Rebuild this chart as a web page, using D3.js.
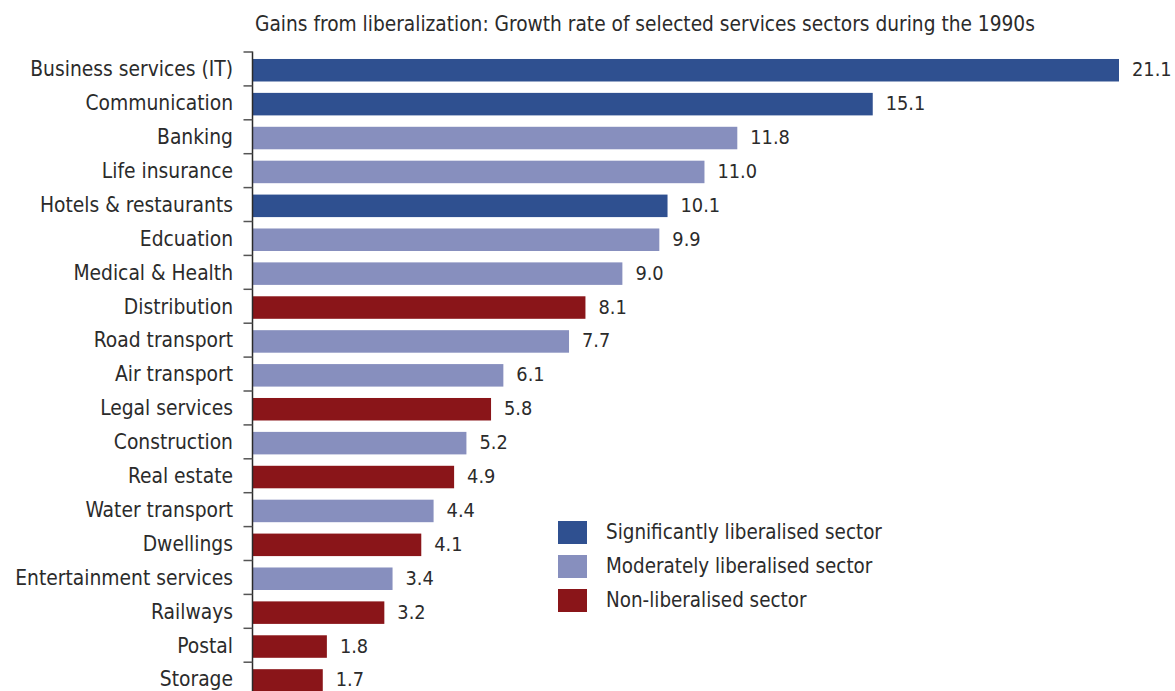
<!DOCTYPE html>
<html>
<head>
<meta charset="utf-8">
<script src="https://cdn.jsdelivr.net/npm/d3@7"></script>
<style>
  html, body { margin: 0; padding: 0; background: #fff; }
  svg { display: block; }
  text { font-family: "DejaVu Sans Condensed", "DejaVu Sans", Verdana, sans-serif; font-stretch: condensed; fill: #2b2b2b; }
</style>
</head>
<body>
<script>
const title = "Gains from liberalization: Growth rate of selected services sectors during the 1990s";
const categories = ["Business services (IT)", "Communication", "Banking", "Life insurance", "Hotels & restaurants",
  "Edcuation", "Medical & Health", "Distribution", "Road transport", "Air transport", "Legal services",
  "Construction", "Real estate", "Water transport", "Dwellings", "Entertainment services", "Railways",
  "Postal", "Storage"];
const values = [21.1, 15.1, 11.8, 11.0, 10.1, 9.9, 9.0, 8.1, 7.7, 6.1, 5.8, 5.2, 4.9, 4.4, 4.1, 3.4, 3.2, 1.8, 1.7];
const groups = ["sig", "sig", "mod", "mod", "sig", "mod", "mod", "non", "mod", "mod", "non", "mod", "non", "mod", "non", "mod", "non", "non", "non"];
const legendKeys = ["sig", "mod", "non"];
const legendLabels = ["Significantly liberalised sector", "Moderately liberalised sector", "Non-liberalised sector"];
const colors = ["#2f5090", "#878fbe", "#8a1519"];

const W = 1175, H = 691;
const svg = d3.select("body").append("svg").attr("width", W).attr("height", H);

const x = d3.scaleLinear().domain([0, 21.1]).range([253, 1119]);
const step = 33.9, pIn = 0.336, pOut = 0.206, plotTop = 52;
const n = categories.length;
const y = d3.scaleBand().domain(categories)
  .range([plotTop, plotTop + step * (n - pIn + 2 * pOut)])
  .paddingInner(pIn).paddingOuter(pOut);
const color = d3.scaleOrdinal().domain(legendKeys).range(colors);

svg.append("text").attr("x", 255).attr("y", 31).attr("font-size", 20.7).text(title);

const data = categories.map((c, i) => ({ c, v: values[i], g: groups[i] }));

svg.selectAll("rect.bar").data(data).join("rect").attr("class", "bar")
  .attr("x", x(0)).attr("y", d => y(d.c)).attr("width", d => x(d.v) - x(0))
  .attr("height", y.bandwidth()).attr("fill", d => color(d.g));

svg.selectAll("text.val").data(data).join("text").attr("class", "val")
  .attr("x", d => x(d.v) + 13).attr("y", d => y(d.c) + y.bandwidth() / 2 + 6)
  .attr("font-size", 19.8).text(d => d.v.toFixed(1));

// axis
const axisX = 252.5;
svg.append("line").attr("x1", axisX).attr("x2", axisX).attr("y1", plotTop - 0.5).attr("y2", H)
  .attr("stroke", "#2a2a2a").attr("stroke-width", 1.5);
const tickYs = categories.map(c => y(c) - pOut * y.step());
svg.selectAll("line.tick").data(tickYs).join("line").attr("class", "tick")
  .attr("x1", 243.5).attr("x2", axisX).attr("y1", d => d).attr("y2", d => d)
  .attr("stroke", "#555").attr("stroke-width", 1.5);

svg.selectAll("text.cat").data(data).join("text").attr("class", "cat")
  .attr("x", 233).attr("y", d => y(d.c) + y.bandwidth() / 2 + 6)
  .attr("text-anchor", "end").attr("font-size", 20.8).text(d => d.c);

// legend
const lg = svg.append("g");
const ly = d3.scalePoint().domain(legendKeys).range([532.5, 600.5]);
lg.selectAll("rect").data(legendKeys).join("rect")
  .attr("x", 558).attr("y", d => ly(d) - 11.5).attr("width", 29).attr("height", 23)
  .attr("fill", d => color(d));
lg.selectAll("text").data(legendKeys).join("text")
  .attr("x", 606).attr("y", d => ly(d) + 6).attr("font-size", 20.4)
  .text((d, i) => legendLabels[i]);
</script>
</body>
</html>
